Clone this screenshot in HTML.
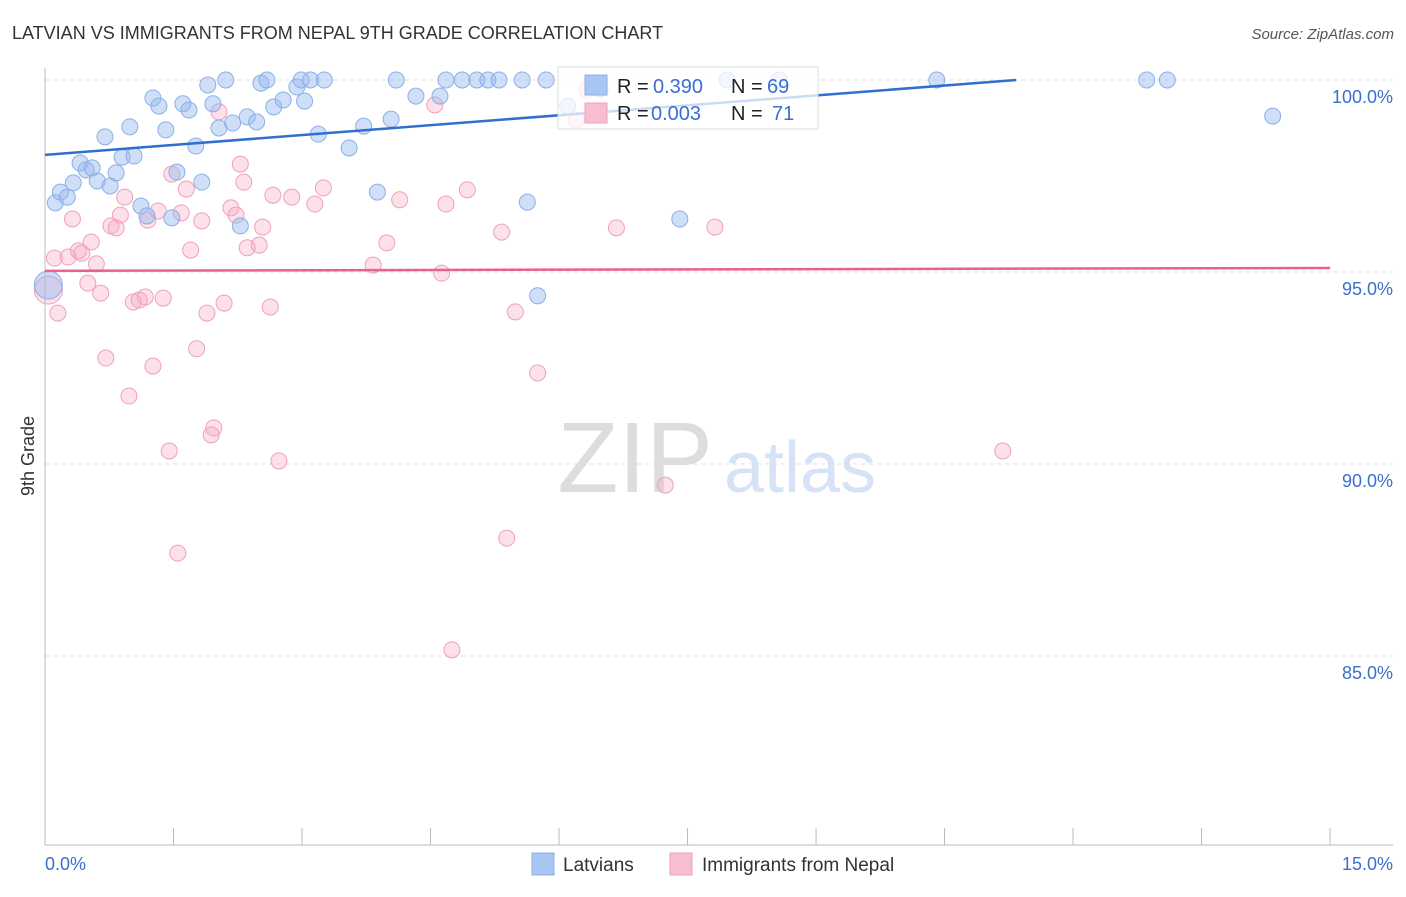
<!DOCTYPE html>
<html><head><meta charset="utf-8"><style>
body{margin:0;background:#fff;font-family:"Liberation Sans",sans-serif}
svg text{font-family:"Liberation Sans",sans-serif}
</style></head><body>
<svg id="c" width="1406" height="892" xmlns="http://www.w3.org/2000/svg">
<text x="12" y="39" font-size="18" fill="#333">LATVIAN VS IMMIGRANTS FROM NEPAL 9TH GRADE CORRELATION CHART</text>
<text x="1394" y="39" font-size="15" fill="#555" text-anchor="end" font-style="italic">Source: ZipAtlas.com</text>
<text x="34" y="456" font-size="18" fill="#333" transform="rotate(-90 34 456)" text-anchor="middle">9th Grade</text>
<text x="635" y="492" font-size="100" fill="#ddd" text-anchor="middle" font-family="Liberation Serif">ZIP</text>
<text x="800" y="492" font-size="72" fill="#d6e2f5" text-anchor="middle">atlas</text>
<g id="grid"></g><g id="axes"></g><g id="pts"></g><g id="trend"></g>
<g>
<rect x="558" y="67" width="260" height="62" fill="rgba(255,255,255,0.75)" stroke="#ddd"/>
<rect x="585" y="75" width="22" height="20" fill="#a9c6f2" stroke="#8ab0e8"/>
<rect x="585" y="103" width="22" height="20" fill="#f7bdd0" stroke="#f0a0bb"/>
<text x="617" y="93" font-size="20" fill="#222">R =</text>
<text x="653" y="93" font-size="20" fill="#3a6fd0">0.390</text>
<text x="731" y="93" font-size="20" fill="#222">N =</text>
<text x="767" y="93" font-size="20" fill="#3a6fd0">69</text>
<text x="617" y="120" font-size="20" fill="#222">R =</text>
<text x="651" y="120" font-size="20" fill="#3a6fd0">0.003</text>
<text x="731" y="120" font-size="20" fill="#222">N =</text>
<text x="772" y="120" font-size="20" fill="#3a6fd0">71</text>
</g>
<g>
<rect x="532" y="853" width="22" height="22" fill="#a9c6f2" stroke="#8ab0e8"/>
<text x="563" y="871" font-size="19" fill="#333">Latvians</text>
<rect x="670" y="853" width="22" height="22" fill="#f7bdd0" stroke="#f0a0bb"/>
<text x="702" y="871" font-size="19" fill="#333">Immigrants from Nepal</text>
</g>
</svg>
<script>
const yTicks=[100,95,90,85];
const yTickLabels=["100.0%","95.0%","90.0%","85.0%"];
const xTicks=[0,1.5,3,4.5,6,7.5,9,10.5,12,13.5,15];
const blueX=[0.12,0.18,0.26,0.33,0.41,0.48,0.55,0.61,0.70,0.76,0.83,0.90,0.99,1.04,1.12,1.19,1.26,1.33,1.41,1.48,1.54,1.61,1.68,1.76,1.83,1.90,1.96,2.03,2.11,2.19,2.28,2.36,2.47,2.52,2.59,2.67,2.78,2.94,2.99,3.03,3.10,3.19,3.26,3.55,3.72,3.88,4.04,4.10,4.33,4.61,4.68,4.87,5.04,5.17,5.30,5.57,5.63,5.75,5.85,6.10,6.48,7.41,7.96,8.57,10.41,12.86,13.10,14.33,0.04];
const blueY=[96.80,97.08,96.95,97.32,97.84,97.66,97.71,97.37,98.52,97.24,97.58,97.99,98.78,98.02,96.72,96.46,99.53,99.32,98.70,96.41,97.60,99.38,99.22,98.28,97.34,99.87,99.38,98.75,100,98.88,96.20,99.04,98.91,99.92,100,99.30,99.48,99.82,100,99.45,100,98.59,100,98.23,98.80,97.08,98.98,100,99.58,99.58,100,100,100,100,100,100,96.82,94.38,100,99.32,99.77,96.38,100,100,100,100,100,99.06,94.66];
const pinkX=[0.04,0.15,0.11,0.27,0.32,0.39,0.43,0.50,0.54,0.60,0.65,0.71,0.77,0.83,0.88,0.93,0.98,1.03,1.10,1.17,1.20,1.26,1.32,1.38,1.45,1.48,1.55,1.59,1.65,1.70,1.77,1.83,1.89,1.94,1.97,2.03,2.09,2.17,2.23,2.28,2.32,2.36,2.50,2.54,2.63,2.66,2.73,2.88,3.15,3.25,3.83,3.99,4.14,4.55,4.63,4.68,4.75,4.93,5.33,5.39,5.49,5.75,6.20,6.33,6.67,7.24,7.82,11.18];
const pinkY=[94.53,93.93,95.36,95.39,96.38,95.55,95.49,94.71,95.78,95.21,94.45,92.76,96.20,96.15,96.48,96.95,91.77,94.22,94.27,94.35,96.35,92.55,96.59,94.32,90.34,97.55,87.68,96.54,97.16,95.57,93.0,96.33,93.93,90.76,90.94,99.17,94.19,96.67,96.48,97.81,97.34,95.63,95.70,96.17,94.09,97.0,90.08,96.95,96.77,97.19,95.18,95.76,96.88,99.35,94.97,96.77,85.16,97.14,96.04,88.07,93.96,92.37,98.96,99.74,96.15,89.45,96.17,90.34];
const blueTrend=[98.05,0.172];
const pinkTrend=[95.03,0.005];
const NS="http://www.w3.org/2000/svg";
const X=v=>45+v*85.67, Y=v=>80+(100-v)*38.4;
function mk(t,a,p){const e=document.createElementNS(NS,t);for(const k in a)e.setAttribute(k,a[k]);p.appendChild(e);return e;}
const grid=document.getElementById('grid'),axes=document.getElementById('axes'),pts=document.getElementById('pts'),tr=document.getElementById('trend');
yTicks.forEach((v,i)=>{
 const l=mk('line',{x1:45,x2:1393,y1:Y(v),y2:Y(v),stroke:'#ddd','stroke-dasharray':'4,4'},grid);
 
 
 const t=mk('text',{x:1393,y:Y(v)+23,'font-size':18,fill:'#3a6fd0','text-anchor':'end'},grid);
 t.textContent=yTickLabels[i];
 
 
});
const xa=mk('line',{x1:45,x2:1393,y1:845,y2:845,stroke:'#bbb'},axes);


const ya=mk('line',{x1:45,x2:45,y1:68,y2:845,stroke:'#bbb'},axes);


xTicks.forEach(v=>{
 const l=mk('line',{x1:X(v),x2:X(v),y1:828,y2:845,stroke:'#bbb'},axes);
 
 
});
const t0=mk('text',{x:45,y:870,'font-size':18,fill:'#3a6fd0'},axes);t0.textContent='0.0%';


const t1=mk('text',{x:1393,y:870,'font-size':18,fill:'#3a6fd0','text-anchor':'end'},axes);t1.textContent='15.0%';


pinkX.forEach((x,i)=>{
 const c=mk('circle',{cx:X(x),cy:Y(pinkY[i]),r:i==0?14:8,fill:'rgba(245,170,195,0.35)',stroke:'#f0a0bb','stroke-width':1},pts);
 
 
});
blueX.forEach((x,i)=>{
 const c=mk('circle',{cx:X(x),cy:Y(blueY[i]),r:i==blueX.length-1?14:8,fill:'rgba(150,185,240,0.45)',stroke:'#8ab0e8','stroke-width':1},pts);
 
 
});
const xEnd=(100-blueTrend[0])/blueTrend[1];
const bl=mk('line',{x1:X(0),y1:Y(blueTrend[0]),x2:X(xEnd),y2:Y(100),stroke:'#2f6fd0','stroke-width':2.5},tr);


const pl=mk('line',{x1:X(0),y1:Y(pinkTrend[0]),x2:X(15),y2:Y(pinkTrend[0]+pinkTrend[1]*15),stroke:'#e8628e','stroke-width':2.5},tr);


</script>
</body></html>
